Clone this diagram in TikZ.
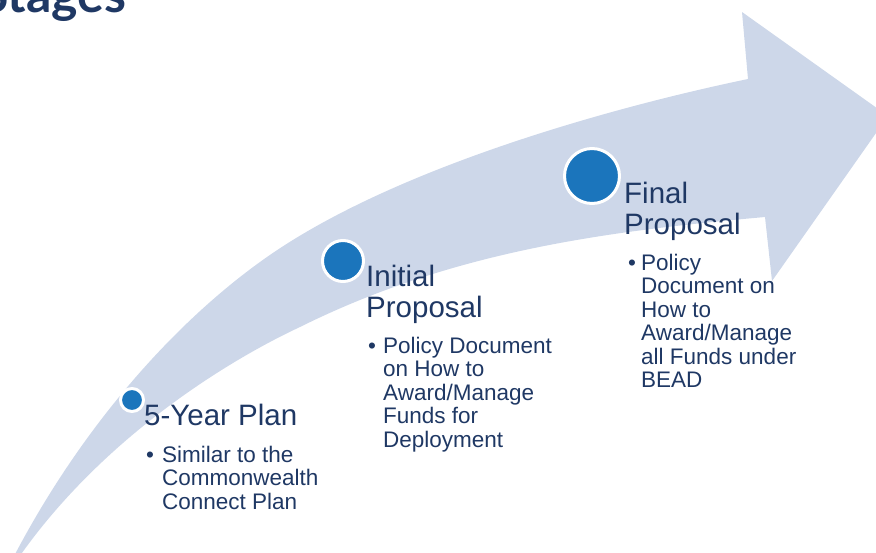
\documentclass[tikz,border=0pt]{standalone}
\usepackage{fontspec}
\setmainfont{Liberation Sans}
\newfontfamily\titlefont{Lato}
\definecolor{bandblue}{HTML}{CDD7E9}
\definecolor{dotblue}{HTML}{1B75BC}
\definecolor{inknavy}{HTML}{1F3864}
\newcommand{\lines}[1]{\begin{tabular}[t]{@{}l@{}}#1\end{tabular}}

\begin{document}
\begin{tikzpicture}[x=1pt, y=-1pt,
  dot/.style={circle, fill=dotblue, draw=white, line width=3pt, inner sep=0pt},
  head/.style={anchor=base west, inner sep=0pt, text=inknavy,
               font=\fontsize{29.5}{31}\selectfont},
  item/.style={anchor=base west, inner sep=0pt, text=inknavy,
               font=\fontsize{22.5}{23.5}\selectfont}]
\useasboundingbox (0,0) rectangle (876,552);
\clip (0,0) rectangle (876,552);
% curved arrow
\fill[bandblue] (12,560) .. controls (82,425) and (177,320) .. (267,257)
  .. controls (397,166) and (618,106) .. (748,79)
  -- (742,12) -- (888,116) -- (772,281) -- (765,217)
  .. controls (610,231) and (455,250) .. (300,327)
  .. controls (225,362) and (100,440) .. (17,560) -- cycle;
\node[anchor=base west, inner sep=0pt, text=inknavy,
      font=\titlefont\bfseries\fontsize{50}{54}\selectfont] (title) at (-19,12) {Stages};
% stage dots
\node[dot, minimum size=23pt] (dplan) at (132,400) {};
\node[dot, minimum size=41pt] (dinit) at (343,261) {};
\node[dot, minimum size=55pt] (dfinal) at (592,176) {};
% 5-year plan
\node[head] (plan) at (144,425) {5-Year Plan};
\node[item] (planbul) at (146,462) {\textbullet};
\node[item] (plantxt) at (162,462) {\lines{Similar to the\\Commonwealth\\Connect Plan}};
% initial proposal
\node[head] (init) at (366,286) {\lines{Initial\\Proposal}};
\node[item] (initbul) at (368,353) {\textbullet};
\node[item] (inittxt) at (383,353) {\lines{Policy Document\\on How to\\Award/Manage\\Funds for\\Deployment}};
% final proposal
\node[head] (final) at (624,203) {\lines{Final\\Proposal}};
\node[item] (finalbul) at (628,270) {\textbullet};
\node[item] (finaltxt) at (641,270) {\lines{Policy\\Document on\\How to\\Award/Manage\\all Funds under\\BEAD}};
\end{tikzpicture}
\end{document}
